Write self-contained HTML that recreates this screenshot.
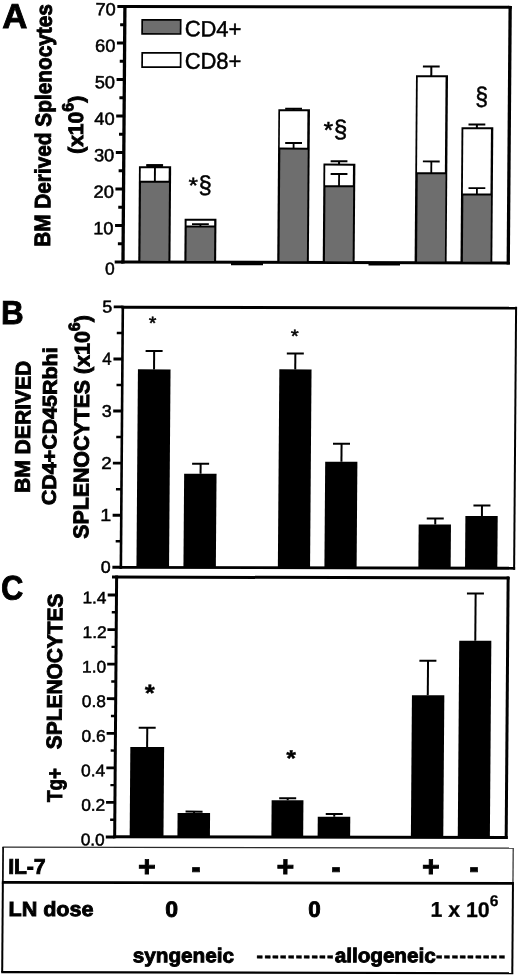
<!DOCTYPE html>
<html lang="en">
<head>
<meta charset="utf-8">
<title>Figure</title>
<style>
html,body{margin:0;padding:0;background:#fff;}
body{width:520px;height:976px;overflow:hidden;}
svg{display:block;filter:grayscale(1) blur(0.4px);}
svg text{font-family:"Liberation Sans",Arial,Helvetica,sans-serif;fill:#000;}
</style>
</head>
<body>
<svg width="520" height="976" viewBox="0 0 520 976">
<rect x="0" y="0" width="520" height="976" fill="#fff"/>
<g transform="matrix(1 0.0022 -0.0075 1 3.6600 -0.5720)">
<rect x="119.65" y="5.33" width="3.30" height="258.55" fill="#000" />
<rect x="504.90" y="5.33" width="3.30" height="258.55" fill="#000" />
<rect x="119.65" y="5.32" width="388.55" height="2.90" fill="#000" />
<rect x="119.65" y="260.88" width="388.55" height="3.00" fill="#000" />
<rect x="229.32" y="262.45" width="32.00" height="2.80" fill="#000" />
<rect x="366.82" y="262.49" width="31.50" height="2.80" fill="#000" />
<rect x="113.01" y="260.71" width="8.00" height="3.20" fill="#000" />
<text transform="translate(103.31 274.91) scale(1.008 1)" font-size="17.24" text-anchor="start" stroke="#000" stroke-width="0.5" >0</text>
<rect x="113.11" y="224.21" width="8.00" height="3.20" fill="#000" />
<text transform="translate(91.26 234.72) scale(1.035 1)" font-size="17.67" text-anchor="start" stroke="#000" stroke-width="0.5" >10</text>
<rect x="113.21" y="187.71" width="8.00" height="3.20" fill="#000" />
<text transform="translate(91.37 198.22) scale(1.035 1)" font-size="17.67" text-anchor="start" stroke="#000" stroke-width="0.5" >20</text>
<rect x="113.31" y="151.21" width="8.00" height="3.20" fill="#000" />
<text transform="translate(91.47 161.72) scale(1.035 1)" font-size="17.67" text-anchor="start" stroke="#000" stroke-width="0.5" >30</text>
<rect x="113.42" y="114.71" width="8.00" height="3.20" fill="#000" />
<text transform="translate(91.57 125.22) scale(1.035 1)" font-size="17.67" text-anchor="start" stroke="#000" stroke-width="0.5" >40</text>
<rect x="113.52" y="78.21" width="8.00" height="3.20" fill="#000" />
<text transform="translate(91.68 88.71) scale(1.035 1)" font-size="17.67" text-anchor="start" stroke="#000" stroke-width="0.5" >50</text>
<rect x="113.62" y="41.71" width="8.00" height="3.20" fill="#000" />
<text transform="translate(91.78 52.21) scale(1.035 1)" font-size="17.67" text-anchor="start" stroke="#000" stroke-width="0.5" >60</text>
<rect x="113.73" y="5.21" width="8.00" height="3.20" fill="#000" />
<text transform="translate(91.88 15.71) scale(1.035 1)" font-size="17.67" text-anchor="start" stroke="#000" stroke-width="0.5" >70</text>
<rect x="116.06" y="242.51" width="5.00" height="3.10" fill="#000" />
<rect x="116.16" y="206.01" width="5.00" height="3.10" fill="#000" />
<rect x="116.26" y="169.51" width="5.00" height="3.10" fill="#000" />
<rect x="116.37" y="133.00" width="5.00" height="3.10" fill="#000" />
<rect x="116.47" y="96.50" width="5.00" height="3.10" fill="#000" />
<rect x="116.57" y="60.00" width="5.00" height="3.10" fill="#000" />
<rect x="116.68" y="23.50" width="5.00" height="3.10" fill="#000" />
<rect x="137.84" y="19.22" width="40.20" height="15.80" fill="#000" />
<rect x="139.54" y="20.92" width="36.80" height="12.40" fill="#6e6e6e" />
<rect x="138.09" y="52.22" width="40.20" height="16.00" fill="#000" />
<rect x="139.79" y="53.92" width="36.80" height="12.60" fill="#fff" />
<text transform="translate(181.31 36.53) scale(0.982 1)" font-size="22.33" text-anchor="start" stroke="#000" stroke-width="0.5" >CD4+</text>
<text transform="translate(181.55 68.83) scale(0.964 1)" font-size="22.76" text-anchor="start" stroke="#000" stroke-width="0.5" >CD8+</text>
<rect x="136.55" y="166.43" width="32.20" height="95.89" fill="#000" />
<rect x="138.35" y="168.43" width="28.00" height="12.60" fill="#fff" />
<rect x="138.70" y="183.03" width="28.00" height="78.09" fill="#6e6e6e" />
<rect x="143.88" y="164.43" width="16.80" height="2.00" fill="#000" />
<rect x="151.29" y="165.43" width="2.00" height="2.00" fill="#000" />
<rect x="182.64" y="218.93" width="31.80" height="43.40" fill="#000" />
<rect x="184.61" y="220.93" width="27.60" height="4.70" fill="#fff" />
<rect x="184.77" y="227.63" width="27.60" height="33.50" fill="#6e6e6e" />
<rect x="190.02" y="223.43" width="16.80" height="1.80" fill="#000" />
<rect x="197.53" y="224.33" width="1.80" height="2.30" fill="#000" />
<rect x="275.53" y="109.23" width="31.60" height="153.14" fill="#000" />
<rect x="277.21" y="111.23" width="27.40" height="36.30" fill="#fff" />
<rect x="277.78" y="149.53" width="27.40" height="111.64" fill="#6e6e6e" />
<rect x="282.36" y="107.73" width="16.80" height="2.00" fill="#000" />
<rect x="289.76" y="108.73" width="2.00" height="1.50" fill="#000" />
<rect x="282.61" y="142.03" width="16.80" height="1.80" fill="#000" />
<rect x="290.13" y="142.93" width="1.80" height="5.60" fill="#000" />
<rect x="321.04" y="163.43" width="31.90" height="98.95" fill="#000" />
<rect x="322.86" y="165.43" width="27.70" height="19.70" fill="#fff" />
<rect x="323.22" y="187.13" width="27.70" height="74.05" fill="#6e6e6e" />
<rect x="328.20" y="160.03" width="16.80" height="2.00" fill="#000" />
<rect x="335.61" y="161.03" width="2.00" height="3.40" fill="#000" />
<rect x="328.30" y="172.93" width="16.80" height="1.80" fill="#000" />
<rect x="335.84" y="173.83" width="1.80" height="12.30" fill="#000" />
<rect x="412.91" y="74.92" width="32.00" height="187.49" fill="#000" />
<rect x="414.68" y="76.92" width="27.80" height="95.00" fill="#fff" />
<rect x="415.37" y="173.92" width="27.80" height="87.29" fill="#6e6e6e" />
<rect x="419.74" y="65.12" width="16.80" height="2.00" fill="#000" />
<rect x="427.18" y="66.12" width="2.00" height="9.80" fill="#000" />
<rect x="420.45" y="160.22" width="16.80" height="1.80" fill="#000" />
<rect x="428.00" y="161.12" width="1.80" height="11.80" fill="#000" />
<rect x="458.80" y="126.72" width="31.80" height="135.70" fill="#000" />
<rect x="460.65" y="128.72" width="27.60" height="64.30" fill="#fff" />
<rect x="461.15" y="195.02" width="27.60" height="66.20" fill="#6e6e6e" />
<rect x="465.77" y="123.02" width="16.80" height="2.00" fill="#000" />
<rect x="473.19" y="124.02" width="2.00" height="3.70" fill="#000" />
<rect x="466.25" y="186.82" width="16.80" height="1.80" fill="#000" />
<rect x="473.78" y="187.72" width="1.80" height="6.30" fill="#000" />
<rect x="151.60" y="167.43" width="1.90" height="14.60" fill="#000" />
<rect x="144.08" y="164.43" width="16.30" height="2.80" fill="#000" />
<text transform="translate(186.28 192.83) scale(1.103 1)" font-size="21.71" text-anchor="start" stroke="#000" stroke-width="0.5" >*</text>
<text transform="translate(196.22 193.36) scale(0.956 1)" font-size="24.81" text-anchor="start" stroke="#000" stroke-width="0.5" >§</text>
<text transform="translate(320.85 137.71) scale(1.078 1)" font-size="22.86" text-anchor="start" stroke="#000" stroke-width="0.5" >*</text>
<text transform="translate(331.17 137.46) scale(0.979 1)" font-size="24.81" text-anchor="start" stroke="#000" stroke-width="0.5" >§</text>
<text transform="translate(472.25 104.59) scale(0.895 1)" font-size="25.62" text-anchor="start" stroke="#000" stroke-width="0.5" >§</text>
<text transform="translate(48.20 247.33) rotate(-90) scale(0.933 1)" font-size="22.31" font-weight="bold" text-anchor="start" stroke="#000" stroke-width="0.9" >BM Derived Splenocytes</text>
<text transform="translate(80.38 154.20) rotate(-90)" font-size="21.0" font-weight="bold" text-anchor="start" stroke="#000" stroke-width="0.9" >(x10<tspan dy="-10" font-size="16">6</tspan><tspan dy="10">)</tspan></text>
<text transform="translate(-1.26 28.59) scale(1.007 1)" font-size="34.55" font-weight="bold" text-anchor="start" stroke="#000" stroke-width="0.9" >A</text>
<rect x="120.17" y="306.12" width="2.60" height="262.95" fill="#000" />
<rect x="513.73" y="306.12" width="2.00" height="262.95" fill="#000" />
<rect x="120.17" y="306.12" width="395.55" height="2.90" fill="#000" />
<rect x="120.17" y="566.27" width="395.55" height="2.80" fill="#000" />
<rect x="112.96" y="566.17" width="8.80" height="2.90" fill="#000" />
<text transform="translate(101.49 573.22) scale(1.058 1)" font-size="16.82" text-anchor="start" stroke="#000" stroke-width="0.5" >0</text>
<rect x="112.84" y="514.08" width="8.80" height="2.90" fill="#000" />
<text transform="translate(100.61 521.31) scale(1.135 1)" font-size="17.31" text-anchor="start" stroke="#000" stroke-width="0.5" >1</text>
<rect x="112.72" y="462.00" width="8.80" height="2.90" fill="#000" />
<text transform="translate(101.03 469.23) scale(1.095 1)" font-size="17.06" text-anchor="start" stroke="#000" stroke-width="0.5" >2</text>
<rect x="112.60" y="409.92" width="8.80" height="2.90" fill="#000" />
<text transform="translate(101.17 416.98) scale(1.064 1)" font-size="16.82" text-anchor="start" stroke="#000" stroke-width="0.5" >3</text>
<rect x="112.48" y="357.84" width="8.80" height="2.90" fill="#000" />
<text transform="translate(101.35 365.07) scale(0.972 1)" font-size="17.31" text-anchor="start" stroke="#000" stroke-width="0.5" >4</text>
<rect x="112.36" y="305.76" width="8.80" height="2.90" fill="#000" />
<text transform="translate(100.89 312.82) scale(1.049 1)" font-size="17.06" text-anchor="start" stroke="#000" stroke-width="0.5" >5</text>
<rect x="116.10" y="540.32" width="5.60" height="2.50" fill="#000" />
<rect x="115.98" y="488.24" width="5.60" height="2.50" fill="#000" />
<rect x="115.86" y="436.16" width="5.60" height="2.50" fill="#000" />
<rect x="115.74" y="384.08" width="5.60" height="2.50" fill="#000" />
<rect x="115.62" y="332.00" width="5.60" height="2.50" fill="#000" />
<rect x="137.05" y="369.63" width="32.60" height="198.00" fill="#000" />
<rect x="144.57" y="350.23" width="17.00" height="2.00" fill="#000" />
<rect x="152.14" y="351.23" width="2.00" height="18.40" fill="#000" />
<rect x="184.04" y="473.83" width="32.40" height="93.82" fill="#000" />
<rect x="191.92" y="462.93" width="17.00" height="2.00" fill="#000" />
<rect x="199.46" y="463.93" width="2.00" height="9.90" fill="#000" />
<rect x="278.45" y="369.32" width="32.20" height="198.35" fill="#000" />
<rect x="285.79" y="352.32" width="17.00" height="2.00" fill="#000" />
<rect x="293.35" y="353.32" width="2.00" height="16.00" fill="#000" />
<rect x="325.00" y="461.52" width="32.20" height="106.17" fill="#000" />
<rect x="332.67" y="442.62" width="17.00" height="2.00" fill="#000" />
<rect x="340.24" y="443.62" width="2.00" height="17.90" fill="#000" />
<rect x="418.94" y="524.12" width="32.30" height="43.61" fill="#000" />
<rect x="426.98" y="517.21" width="17.00" height="2.00" fill="#000" />
<rect x="434.50" y="518.21" width="2.00" height="5.90" fill="#000" />
<rect x="465.61" y="515.51" width="32.30" height="52.23" fill="#000" />
<rect x="473.58" y="503.91" width="17.00" height="2.00" fill="#000" />
<rect x="481.12" y="504.91" width="2.00" height="10.60" fill="#000" />
<text transform="translate(147.45 329.56) scale(1.063 1)" font-size="18.29" text-anchor="start" stroke="#000" stroke-width="0.5" >*</text>
<text transform="translate(289.73 342.14) scale(1.109 1)" font-size="18.29" text-anchor="start" stroke="#000" stroke-width="0.5" >*</text>
<text transform="translate(29.69 493.60) rotate(-90) scale(0.987 1)" font-size="21.38" font-weight="bold" text-anchor="start" stroke="#000" stroke-width="0.9" >BM DERIVED</text>
<text transform="translate(55.99 505.77) rotate(-90) scale(1.081 1)" font-size="19.86" font-weight="bold" text-anchor="start" stroke="#000" stroke-width="0.9" >CD4+CD45Rbhi</text>
<text transform="translate(88.53 539.19) rotate(-90)" font-size="21.35" font-weight="bold" text-anchor="start" stroke="#000" stroke-width="0.9" >SPLENOCYTES (x10<tspan dy="-10" font-size="16">6</tspan><tspan dy="10">)</tspan></text>
<text transform="translate(-0.28 324.69) scale(0.94 1)" font-size="33.31" font-weight="bold" text-anchor="start" stroke="#000" stroke-width="0.9" >B</text>
<rect x="115.79" y="575.89" width="3.00" height="262.65" fill="#000" />
<rect x="507.30" y="575.89" width="3.00" height="262.65" fill="#000" />
<rect x="112.67" y="575.89" width="397.62" height="3.00" fill="#000" />
<rect x="115.79" y="835.54" width="394.50" height="3.00" fill="#000" />
<rect x="108.42" y="835.93" width="8.80" height="2.80" fill="#000" />
<text transform="translate(83.37 845.75) scale(1.029 1)" font-size="16.82" text-anchor="start" stroke="#000" stroke-width="0.5" >0.0</text>
<rect x="108.44" y="801.36" width="8.80" height="2.80" fill="#000" />
<text transform="translate(83.60 811.18) scale(1.029 1)" font-size="16.82" text-anchor="start" stroke="#000" stroke-width="0.5" >0.2</text>
<rect x="108.45" y="766.79" width="8.80" height="2.80" fill="#000" />
<text transform="translate(83.23 776.61) scale(1.029 1)" font-size="16.82" text-anchor="start" stroke="#000" stroke-width="0.5" >0.4</text>
<rect x="108.47" y="732.21" width="8.80" height="2.80" fill="#000" />
<text transform="translate(83.50 742.03) scale(1.029 1)" font-size="16.82" text-anchor="start" stroke="#000" stroke-width="0.5" >0.6</text>
<rect x="108.48" y="697.64" width="8.80" height="2.80" fill="#000" />
<text transform="translate(83.52 707.46) scale(1.029 1)" font-size="16.82" text-anchor="start" stroke="#000" stroke-width="0.5" >0.8</text>
<rect x="108.49" y="663.07" width="8.80" height="2.80" fill="#000" />
<text transform="translate(83.44 672.89) scale(1.029 1)" font-size="16.82" text-anchor="start" stroke="#000" stroke-width="0.5" >1.0</text>
<rect x="108.51" y="628.50" width="8.80" height="2.80" fill="#000" />
<text transform="translate(83.68 638.32) scale(1.029 1)" font-size="16.82" text-anchor="start" stroke="#000" stroke-width="0.5" >1.2</text>
<rect x="108.52" y="593.93" width="8.80" height="2.80" fill="#000" />
<text transform="translate(83.30 603.75) scale(1.029 1)" font-size="16.82" text-anchor="start" stroke="#000" stroke-width="0.5" >1.4</text>
<rect x="112.63" y="818.84" width="4.60" height="2.40" fill="#000" />
<rect x="112.64" y="784.27" width="4.60" height="2.40" fill="#000" />
<rect x="112.66" y="749.69" width="4.60" height="2.40" fill="#000" />
<rect x="112.67" y="715.12" width="4.60" height="2.40" fill="#000" />
<rect x="112.69" y="680.55" width="4.60" height="2.40" fill="#000" />
<rect x="112.70" y="645.98" width="4.60" height="2.40" fill="#000" />
<rect x="112.72" y="611.41" width="4.60" height="2.40" fill="#000" />
<rect x="132.28" y="747.25" width="33.80" height="90.03" fill="#000" />
<rect x="140.50" y="727.05" width="17.00" height="2.00" fill="#000" />
<rect x="148.07" y="728.05" width="2.00" height="19.20" fill="#000" />
<rect x="180.03" y="813.15" width="32.50" height="24.07" fill="#000" />
<rect x="187.98" y="810.75" width="17.00" height="2.00" fill="#000" />
<rect x="195.48" y="811.75" width="2.00" height="1.40" fill="#000" />
<rect x="273.98" y="800.14" width="31.80" height="36.94" fill="#000" />
<rect x="281.53" y="797.24" width="17.00" height="2.00" fill="#000" />
<rect x="289.03" y="798.24" width="2.00" height="1.90" fill="#000" />
<rect x="320.24" y="816.64" width="32.50" height="20.38" fill="#000" />
<rect x="328.19" y="812.84" width="17.00" height="2.00" fill="#000" />
<rect x="335.71" y="813.84" width="2.00" height="2.80" fill="#000" />
<rect x="413.49" y="694.83" width="32.40" height="142.05" fill="#000" />
<rect x="420.70" y="659.43" width="17.00" height="2.00" fill="#000" />
<rect x="428.33" y="660.43" width="2.00" height="34.40" fill="#000" />
<rect x="460.38" y="640.33" width="32.10" height="196.49" fill="#000" />
<rect x="467.74" y="591.93" width="17.00" height="2.00" fill="#000" />
<rect x="475.42" y="592.93" width="2.00" height="47.40" fill="#000" />
<text transform="translate(146.24 701.18) scale(1.077 1)" font-size="23.62" font-weight="bold" text-anchor="start" stroke="#000" stroke-width="0.4" >*</text>
<text transform="translate(288.44 766.00) scale(1.069 1)" font-size="23.09" font-weight="bold" text-anchor="start" stroke="#000" stroke-width="0.4" >*</text>
<text transform="translate(64.25 802.38) rotate(-90) scale(0.881 1)" font-size="21.33" font-weight="bold" text-anchor="start" stroke="#000" stroke-width="0.9" >Tg+</text>
<text transform="translate(63.31 749.63) rotate(-90) scale(0.987 1)" font-size="21.2" font-weight="bold" text-anchor="start" stroke="#000" stroke-width="0.9" >SPLENOCYTES</text>
<text transform="translate(1.87 600.15) scale(0.905 1)" font-size="34.06" font-weight="bold" text-anchor="start" stroke="#000" stroke-width="0.9" >C</text>
<rect x="5.22" y="846.95" width="511.30" height="1.30" fill="#2a2a2a" />
<rect x="4.91" y="847.61" width="1.80" height="35.30" fill="#111" />
<rect x="515.27" y="847.61" width="1.30" height="35.30" fill="#3a3a3a" />
<rect x="4.81" y="881.50" width="512.10" height="2.80" fill="#000" />
<rect x="4.82" y="882.91" width="2.00" height="89.75" fill="#000" />
<rect x="514.93" y="882.91" width="2.00" height="89.75" fill="#000" />
<rect x="4.82" y="971.61" width="512.10" height="2.10" fill="#000" />
<text transform="translate(11.07 874.26) scale(0.998 1)" font-size="21.09" font-weight="bold" text-anchor="start" stroke="#000" stroke-width="0.9" >IL-7</text>
<text transform="translate(11.75 916.50) scale(1.055 1)" font-size="20.41" font-weight="bold" text-anchor="start" stroke="#000" stroke-width="0.9" >LN dose</text>
<text transform="translate(141.01 876.60) scale(1.05 1)" font-size="28.77" font-weight="bold" text-anchor="start" stroke="#000" stroke-width="0.9" >+</text>
<text transform="translate(279.31 876.30) scale(1.05 1)" font-size="28.77" font-weight="bold" text-anchor="start" stroke="#000" stroke-width="0.9" >+</text>
<text transform="translate(425.01 875.98) scale(1.05 1)" font-size="28.77" font-weight="bold" text-anchor="start" stroke="#000" stroke-width="0.9" >+</text>
<text transform="translate(194.19 879.06) scale(0.785 1)" font-size="35.83" font-weight="bold" text-anchor="start" stroke="#000" stroke-width="0.9" >-</text>
<text transform="translate(334.19 878.75) scale(0.785 1)" font-size="35.83" font-weight="bold" text-anchor="start" stroke="#000" stroke-width="0.9" >-</text>
<text transform="translate(472.19 878.45) scale(0.785 1)" font-size="35.83" font-weight="bold" text-anchor="start" stroke="#000" stroke-width="0.9" >-</text>
<text transform="translate(168.45 917.02) scale(1.036 1)" font-size="22.05" font-weight="bold" text-anchor="start" stroke="#000" stroke-width="0.9" >0</text>
<text transform="translate(311.47 916.71) scale(1.007 1)" font-size="22.05" font-weight="bold" text-anchor="start" stroke="#000" stroke-width="0.9" >0</text>
<text transform="translate(433.62 916.43)" font-size="21.3" font-weight="bold" text-anchor="start" stroke="#000" stroke-width="0.3" >1 x 10<tspan dy="-11.0" font-size="15.5">6</tspan></text>
<text transform="translate(136.35 962.46) scale(1.031 1)" font-size="20.05" font-weight="bold" text-anchor="start" stroke="#000" stroke-width="0.9" >syngeneic</text>
<text transform="translate(259.92 962.22)" font-size="20.4" font-weight="bold" text-anchor="start" stroke="#000" stroke-width="0.4" ><tspan letter-spacing="1.04">----------</tspan></text>
<text transform="translate(338.35 962.01) scale(1.029 1)" font-size="20.05" font-weight="bold" text-anchor="start" stroke="#000" stroke-width="0.9" >allogeneic</text>
<text transform="translate(439.32 961.84)" font-size="20.4" font-weight="bold" text-anchor="start" stroke="#000" stroke-width="0.4" ><tspan letter-spacing="1.04">---------</tspan></text>
</g>
</svg>
</body>
</html>
